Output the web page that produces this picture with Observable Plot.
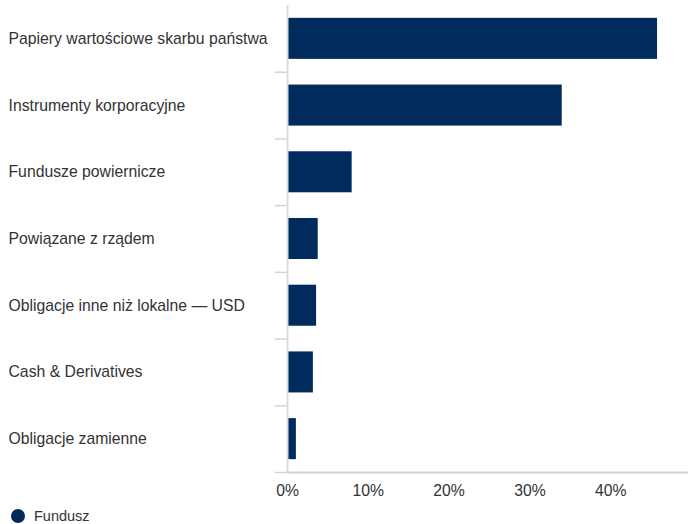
<!DOCTYPE html>
<html>
<head>
<meta charset="utf-8">
<script src="https://cdn.jsdelivr.net/npm/d3@7"></script>
<script src="https://cdn.jsdelivr.net/npm/@observablehq/plot@0.6"></script>
<style>
  html, body { margin: 0; padding: 0; background: #fff; }
  body { width: 688px; height: 524px; overflow: hidden; font-family: "Liberation Sans", Arial, sans-serif; }
  #legend { position: relative; height: 24px; font-size: 14.5px; color: #333; }
  #legend .dot { position: absolute; left: 11px; top: 9px; width: 14px; height: 14px; border-radius: 50%; background: #002B5C; }
  #legend .lbl { position: absolute; left: 34px; top: 8px; line-height: 16px; }
</style>
</head>
<body>
<div id="chart"></div>
<div id="legend"><span class="dot"></span><span class="lbl">Fundusz</span></div>
<script>
const categories = [
  "Papiery wartościowe skarbu państwa",
  "Instrumenty korporacyjne",
  "Fundusze powiernicze",
  "Powiązane z rządem",
  "Obligacje inne niż lokalne — USD",
  "Cash & Derivatives",
  "Obligacje zamienne"
];
const values = [0.458, 0.340, 0.080, 0.038, 0.036, 0.032, 0.011];
const xTicks = [0, 0.1, 0.2, 0.3, 0.4];
const seriesName = "Fundusz";

const data = categories.map((c, i) => ({category: c, value: values[i]}));
const xMax = 0.4963;
const lastCat = categories[categories.length - 1];
const half = (472 - 5) / categories.length / 2;

const chart = Plot.plot({
  width: 688,
  height: 500,
  marginLeft: 287,
  marginRight: 0,
  marginTop: 5,
  marginBottom: 28,
  style: {fontFamily: "'Liberation Sans', Arial, sans-serif", fontSize: "15.75px", color: "#333", background: "#fff"},
  x: {domain: [0, xMax], ticks: xTicks, tickFormat: d3.format(".0%"), label: null},
  y: {domain: categories, paddingInner: 0.385, paddingOuter: 0.1925, round: false, label: null},
  marks: [
    Plot.barX(data, {x: "value", y: "category", fill: "#002B5C"}),
    Plot.ruleY([lastCat], {y: d => d, x1: 0, x2: xMax, dy: half, stroke: "#d4d4d4", strokeWidth: 2}),
    Plot.ruleY(categories, {y: d => d, x1: 0, x2: 0, insetLeft: -12, dy: half, stroke: "#c9d6ea", strokeWidth: 1.5}),
    Plot.ruleX([0], {stroke: "#dcdcdc", strokeWidth: 2}),
    Plot.axisX({ticks: xTicks, tickFormat: d3.format(".0%"), tickSize: 0, tickPadding: 12, fill: "#333", fontSize: 15.75}),
    Plot.axisY({tickSize: 0, tickPadding: 279, textAnchor: "start", fill: "#333", fontSize: 15.75})
  ]
});
document.getElementById("chart").appendChild(chart);
</script>
</body>
</html>
